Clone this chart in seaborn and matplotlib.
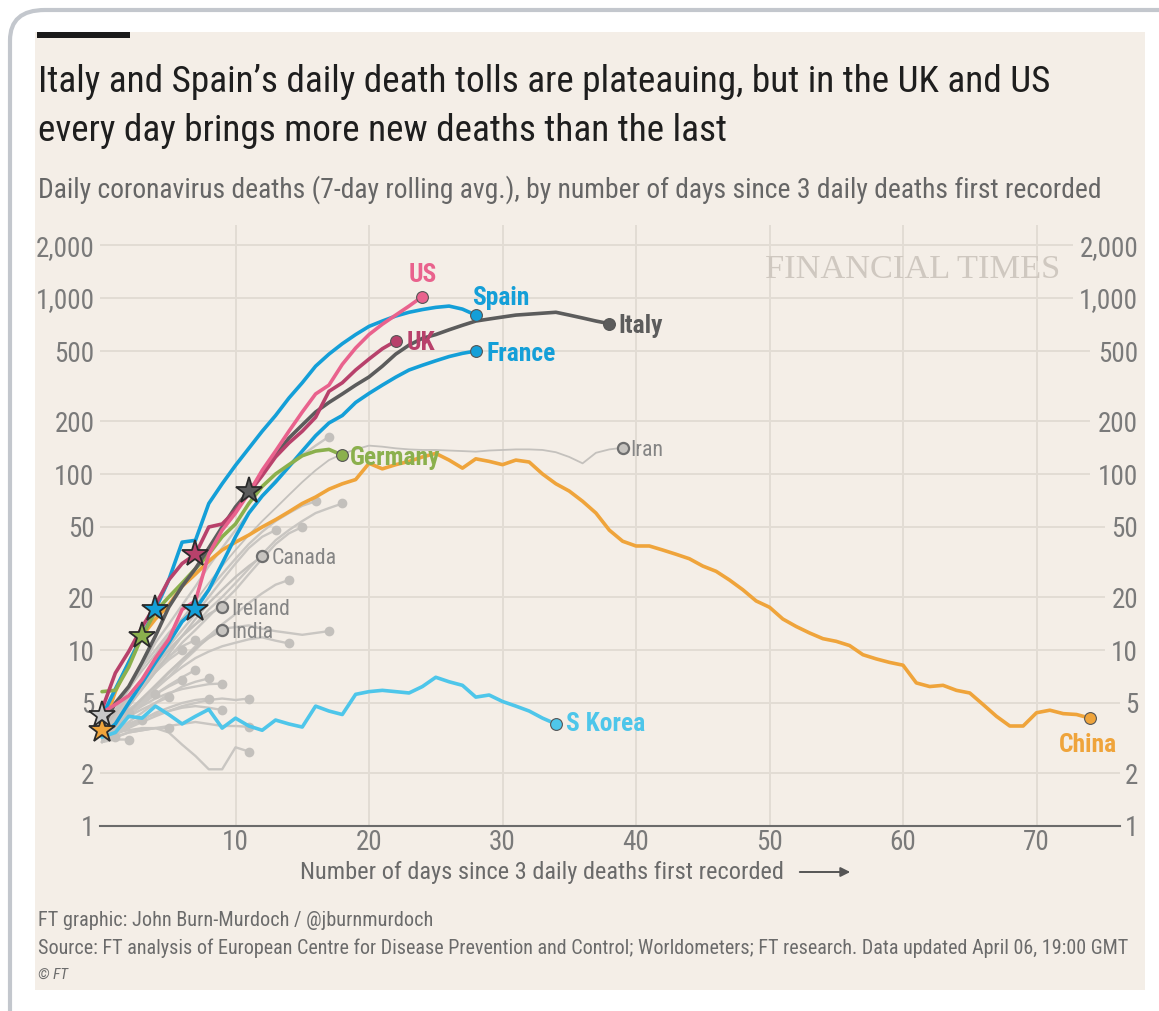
import numpy as np
import pandas as pd
import seaborn as sns
import matplotlib
matplotlib.use("Agg")
import matplotlib.pyplot as plt
from matplotlib import font_manager
from matplotlib.patches import FancyBboxPatch, Rectangle

# ---------------- data (daily deaths, 7-day avg, from day 0) ----------------
us = [4.4, 4.9, 5.5, 6.8, 9.0, 11.5, 17, 19, 35, 48, 60, 78, 105, 135, 175, 225, 285,
      320, 420, 520, 620, 710, 800, 900, 1020]
uk = [4.6, 7.4, 9.8, 13.5, 18, 25, 31, 35, 50, 52, 62, 78, 98, 125, 150, 175, 210, 295,
      330, 390, 450, 515, 570]
spain = [4.2, 6.0, 8.5, 12, 17, 25, 41, 42, 68, 88, 112, 140, 175, 215, 270, 330, 410,
         480, 550, 620, 690, 740, 790, 830, 860, 885, 900, 865, 800]
france = [3.3, 3.8, 5.0, 6.5, 8.5, 11, 14.5, 17, 22, 31, 44, 60, 75, 90, 110, 135, 165,
          195, 215, 255, 287, 320, 355, 390, 415, 440, 465, 485, 500]
italy = [3.6, 5.0, 6.2, 8.5, 12, 17.5, 23, 29, 38, 50, 65, 80, 100, 128, 160, 190, 225,
         255, 285, 320, 356, 410, 480, 540, 590, 620, 660, 700, 740, 760, 780, 800, 810,
         820, 830, 800, 770, 740, 715]
germany = [5.8, 5.9, 8.0, 12, 16.5, 20, 24, 29, 35, 44, 52, 68, 85, 100, 113, 127, 135,
           138, 128]
china = [3.5, 5.8, 8.5, 12, 15, 18, 23, 27, 32, 37, 41, 45, 50, 55, 61, 68, 74, 82, 88,
         93, 115, 107, 113, 118, 125, 131, 120, 108, 122, 118, 113, 120, 117, 100, 88, 80,
         70, 60, 48, 41.5, 39, 39, 37, 35, 33, 30, 28, 25, 22, 19, 17.5, 15, 13.6, 12.5,
         11.6, 11.2, 10.6, 9.4, 8.9, 8.5, 8.2, 6.5, 6.2, 6.3, 5.9, 5.7, 4.9, 4.2, 3.7, 3.7,
         4.4, 4.55, 4.35, 4.3, 4.1]
s_korea = [3.2, 3.4, 4.2, 4.1, 4.8, 4.3, 3.8, 4.2, 4.6, 3.6, 4.1, 3.7, 3.5, 4.0, 3.8,
           3.65, 4.8, 4.5, 4.3, 5.6, 5.8, 5.9, 5.8, 5.7, 6.2, 7.0, 6.6, 6.3, 5.4, 5.55, 5.1,
           4.8, 4.5, 4.1, 3.8]
iran = [4.3, 4.6, 6.0, 7.6, 9.5, 12, 15, 19, 24, 30, 37, 45, 54, 64, 76, 90, 105, 120,
        130, 138, 145, 143, 140, 138, 137, 137, 136, 135, 134, 136, 137, 138, 138, 137,
        133, 125, 115, 132, 138, 141]
canada = [3.0, 3.8, 4.8, 6.0, 7.5, 9.5, 12, 15, 18.5, 22, 26, 30, 34]
ireland = [3.5, 4.4, 5.5, 6.8, 8.3, 10, 12, 14, 16, 17.6]
india = [3.0, 3.6, 4.4, 5.3, 6.3, 7.5, 8.8, 10.2, 11.7, 13]
other_countries = [
    [3.5, 4.5, 6, 8, 11, 14, 18, 23, 30, 38, 48, 60, 75, 92, 110, 128, 145, 163],
    [3.2, 4, 5, 6.5, 8, 10, 12, 14, 17, 20, 24, 29, 35, 42, 48, 54, 60, 64, 68],
    [3.5, 4.5, 6, 8, 10, 12.5, 15, 18, 22, 27, 33, 40, 47, 54, 60, 66, 70],
    [3, 3.8, 4.8, 6, 7.5, 9, 11, 13, 15.5, 18.5, 22, 27, 33, 40, 46, 50],
    [3.3, 4.2, 5.3, 6.8, 8.5, 10.5, 13, 16, 20, 25, 31, 38, 44, 48],
    [3, 3.5, 4.2, 5, 6, 7, 8.5, 10, 12, 14, 16, 18.5, 21, 23.5, 25],
    [3, 3.6, 4.3, 5.2, 6.2, 7.4, 8.8, 10.5, 12, 13.2, 13.5, 13.8, 13.2, 12.8, 12.5, 12.2, 12.5, 12.8],
    [3.2, 3.8, 4.5, 5.3, 6.2, 7, 8, 9, 9.8, 10.5, 11, 11.5, 11.8, 11.3, 10.9],
    [3.5, 4.3, 5.3, 6.5, 7.8, 9.2, 10.5, 11.4],
    [3.3, 4.2, 5.2, 6.3, 7.5, 8.8, 10],
    [3, 3.6, 4.2, 4.9, 5.6, 6.3, 7, 7.7],
    [3.2, 3.8, 4.4, 5, 5.6, 6.2, 6.75],
    [3, 3.4, 3.9, 4.4, 5, 5.6, 6.2, 6.6, 6.9],
    [3.4, 3.8, 4.3, 4.8, 5.3, 5.7, 6, 6.2, 6.4, 6.45],
    [3.2, 3.7, 4.2, 4.6, 5, 5.4],
    [3.5, 4, 4.6, 5.2, 5.66],
    [3.1, 3.4, 3.7, 4, 4.4, 4.7, 5, 5.2, 5.3],
    [3, 3.3, 3.6, 3.9, 4.2, 4.5, 4.8, 5, 5.2, 5.3, 5.2, 5.3],
    [3.2, 3.5, 3.8, 4.1, 4.3, 4.5, 4.7, 4.8, 4.7, 4.56],
    [3, 3.2, 3.4, 3.5, 3.6, 3.7, 3.8, 3.9, 3.8, 3.7, 3.7, 3.66],
    [3.3, 3.4, 3.5, 3.6, 3.6, 3.4, 2.9, 2.5, 2.1, 2.1, 2.8, 2.65],
    [3, 3.2, 3.4, 3.5, 3.6, 3.6],
    [3.2, 3.5, 3.8, 4.0],
    [3, 3.1, 3.1],
    [3.4, 3.9, 4.4],
    [3.1, 3.2],
]
star_countries = ["Italy", "UK", "Spain", "France", "Germany", "China", "Iran"]
star_days = [11, 7, 4, 7, 3, 0, 0]

y_ticks = [1, 2, 5, 10, 20, 50, 100, 200, 500, 1000, 2000]
y_tick_labels = ["1", "2", "5", "10", "20", "50", "100", "200", "500", "1,000", "2,000"]
x_ticks = [10, 20, 30, 40, 50, 60, 70]

# ---------------- style ----------------
def pick(*names):
    for n in names:
        try:
            font_manager.findfont(font_manager.FontProperties(family=n),
                                  fallback_to_default=False)
            return n
        except Exception:
            pass
    return "DejaVu Sans"

sns.set_style("white")
NARROW = pick("Liberation Sans Narrow", "Roboto Condensed", "Open Sans Condensed", "Roboto")
SERIF = pick("Liberation Serif", "DejaVu Serif")
plt.rcParams["font.family"] = [NARROW, "DejaVu Sans"]

BG = "#f4eee7"
GRID = "#e2dcd4"
GRAY_LINE = "#c9c6c2"
TXT_GRAY = "#7a7a7a"
colors = {"US": "#e9628d", "UK": "#b8416b", "Spain": "#149fd8", "France": "#149fd8",
          "Italy": "#5c5c5c", "Germany": "#8bb04d", "China": "#efa43b",
          "S Korea": "#4ec6ea", "Iran": "#c4c1bd", "Canada": "#c4c1bd",
          "Ireland": "#c4c1bd", "India": "#c4c1bd"}

W, H = 1159, 1011
fig = plt.figure(figsize=(W / 100, H / 100), dpi=100, facecolor="white")
renderer = fig.canvas.get_renderer()

def fit(t, width_px):
    w = t.get_window_extent(renderer).width
    t.set_fontsize(t.get_fontsize() * width_px / w)
    return t

def size_for(s, width_px, **kw):
    t = fig.text(0, 0, s, fontsize=10, **kw)
    w = t.get_window_extent(renderer).width
    t.remove()
    return 10 * width_px / w

# card + panel (behind the axes)
card = FancyBboxPatch((10 / W, -0.05), 1.2, (H - 10) / H + 0.05,
                      boxstyle="round,pad=0,rounding_size=0.03",
                      transform=fig.transFigure, fc="white", ec="#c3c7cd", lw=3,
                      clip_on=False, zorder=-3)
fig.add_artist(card)
fig.add_artist(Rectangle((35 / W, 21 / H), 1110 / W, 958 / H, transform=fig.transFigure,
                         fc=BG, ec="none", zorder=-2))
fig.add_artist(Rectangle((37 / W, (H - 38) / H), 93 / W, 6 / H, transform=fig.transFigure,
                         fc="#1a1a1a", ec="none", zorder=-1))

# titles
fit(fig.text(38 / W, 1 - 82 / H, "Italy and Spain\u2019s daily death tolls are plateauing, but in the UK and US",
             fontsize=20, color="#1e1e1e", va="center", ha="left"), 1010)
fit(fig.text(38 / W, 1 - 131 / H, "every day brings more new deaths than the last",
             fontsize=20, color="#1e1e1e", va="center", ha="left"), 690)
fit(fig.text(38 / W, 1 - 190 / H,
             "Daily coronavirus deaths (7-day rolling avg.), by number of days since 3 daily deaths first recorded",
             fontsize=14, color="#666666", va="center", ha="left"), 1072)

# axes
ax = fig.add_axes([100 / W, 185 / H, 1020 / W, 601 / H], zorder=1)
ax.set_facecolor("none")
ax.patch.set_alpha(0)
ax.set_yscale("log")
x0 = (100 - 102) / 13.35
x1 = (1120 - 102) / 13.35
ax.set_xlim(x0, x1)
ax.set_ylim(1, 2600)

# grid
grid_end = {2000: 72.7, 1000: 72.7, 500: 74.0, 200: 74.0, 100: 74.0,
            50: 75.1, 20: 75.1, 10: 75.1, 5: x1, 2: x1}
for v in y_ticks[1:]:
    ax.hlines(v, x0, grid_end[v], color=GRID, lw=1.4, zorder=0)
ax.vlines(x_ticks, 1, 2600, color=GRID, lw=1.4, zorder=0)
for s in ["top", "right", "left"]:
    ax.spines[s].set_visible(False)
ax.spines["bottom"].set_color("#6b6b6b")
ax.spines["bottom"].set_linewidth(1.5)

tick_fs = size_for("2,000", 58)
ax.set_yticks(y_ticks)
ax.set_yticklabels(y_tick_labels, fontsize=tick_fs, color=TXT_GRAY)
ax.yaxis.set_minor_locator(matplotlib.ticker.NullLocator())
ax.yaxis.set_minor_formatter(matplotlib.ticker.NullFormatter())
ax.tick_params(axis="y", length=0, pad=4)
ax.set_xticks(x_ticks)
ax.set_xticklabels([str(v) for v in x_ticks], fontsize=tick_fs, color=TXT_GRAY)
ax.tick_params(axis="x", length=0, pad=2)
ytr = ax.get_yaxis_transform()
for v, lab in zip(y_ticks, y_tick_labels):
    ax.text((1138 - 100) / 1020, v, lab, transform=ytr, ha="right", va="center_baseline",
            fontsize=tick_fs, color=TXT_GRAY, clip_on=False)

# watermark
fit(ax.text((765 - 100) / 1020, 1 - (270 - 225) / 601, "FINANCIAL TIMES", transform=ax.transAxes,
            fontsize=20, family=SERIF, color="#cfc8c0", ha="left", va="center"), 295)

# ---------------- lines ----------------
def frame(name, vals):
    return pd.DataFrame({"country": name, "day": np.arange(len(vals)), "deaths": vals})

for i, vals in enumerate(other_countries):
    d = frame(f"other{i}", vals)
    sns.lineplot(data=d, x="day", y="deaths", color=GRAY_LINE, lw=1.7, ax=ax,
                 estimator=None, legend=False, zorder=2)
    ax.plot(d.day.iloc[-1], d.deaths.iloc[-1], "o", ms=7, color="#c3c0bc", mec="none", zorder=3)

series = {"Iran": iran, "Canada": canada, "Ireland": ireland, "India": india,
          "China": china, "S Korea": s_korea, "France": france, "Spain": spain,
          "Germany": germany, "Italy": italy, "UK": uk, "US": us}
lw = {"Iran": 1.3, "Canada": 1.7, "Ireland": 1.7, "India": 1.7}
df = pd.concat([frame(k, v) for k, v in series.items()], ignore_index=True)
for k in series:
    d = df[df.country == k]
    sns.lineplot(data=d, x="day", y="deaths", color=colors[k], lw=lw.get(k, 2.6), ax=ax,
                 estimator=None, legend=False, zorder=4 if k not in lw else 2.5)
    gray = k in lw
    ax.plot(d.day.iloc[-1], d.deaths.iloc[-1], "o", ms=8.5 if not gray else 8,
            color="#c7c4c0" if gray else colors[k], mec="#6f6f6f" if gray else "#555555",
            mew=1.6 if gray else 0.8, zorder=6)
ax.set_xlabel("")
ax.set_ylabel("")

# stars
for c, dday in zip(star_countries, star_days):
    val = series[c][dday]
    fc = colors[c] if c != "Iran" else "#c9c9c9"
    ax.plot(dday, val, marker="*", ms=20, color=fc, mec="#2b2b2b", mew=1.3, zorder=8,
            clip_on=False)

# labels
bold_fs = size_for("Germany", 90, weight="bold")
gray_fs = size_for("Canada", 65)
labels = [
    ("US", (0, 24), "center", True), ("Spain", (-4, 20), "left", True),
    ("Italy", (9, 0), "left", True), ("UK", (11, 0), "left", True),
    ("France", (11, 0), "left", True), ("Germany", (8, 0), "left", True),
    ("Iran", (8, 0), "left", False), ("Canada", (9, 0), "left", False),
    ("Ireland", (9, 0), "left", False), ("India", (9, 0), "left", False),
    ("S Korea", (10, 2), "left", True), ("China", (-2, -24), "center", True),
]
for name, off, ha, bold in labels:
    vals = series[name]
    ax.annotate(name, (len(vals) - 1, vals[-1]), xytext=off, textcoords="offset pixels",
                ha=ha, va="center_baseline",
                fontsize=bold_fs if bold else gray_fs,
                weight="bold" if bold else "normal",
                color=colors[name] if bold else "#858585", zorder=9,
                annotation_clip=False)

# x axis label + arrow
fit(fig.text(300 / W, 1 - 872 / H, "Number of days since 3 daily deaths first recorded",
             fontsize=14, color="#6a6a6a", ha="left", va="center"), 487)
fig.add_artist(matplotlib.patches.FancyArrowPatch((797 / W, 1 - 872 / H), (853 / W, 1 - 872 / H),
               transform=fig.transFigure, arrowstyle="-|>", mutation_scale=14,
               color="#555555", lw=1.4))

# footer
fit(fig.text(38 / W, 1 - 920 / H, "FT graphic: John Burn-Murdoch / @jburnmurdoch",
             fontsize=11, color="#6b6b6b", ha="left", va="center"), 392)
fit(fig.text(38 / W, 1 - 948 / H,
             "Source: FT analysis of European Centre for Disease Prevention and Control; Worldometers; FT research. Data updated April 06, 19:00 GMT",
             fontsize=11, color="#6b6b6b", ha="left", va="center"), 1090)
fig.text(38 / W, 1 - 975 / H, "\u00a9 FT", fontsize=11, style="italic", color="#6b6b6b",
         ha="left", va="center")

fig.savefig("out.png", dpi=100, facecolor="white")
